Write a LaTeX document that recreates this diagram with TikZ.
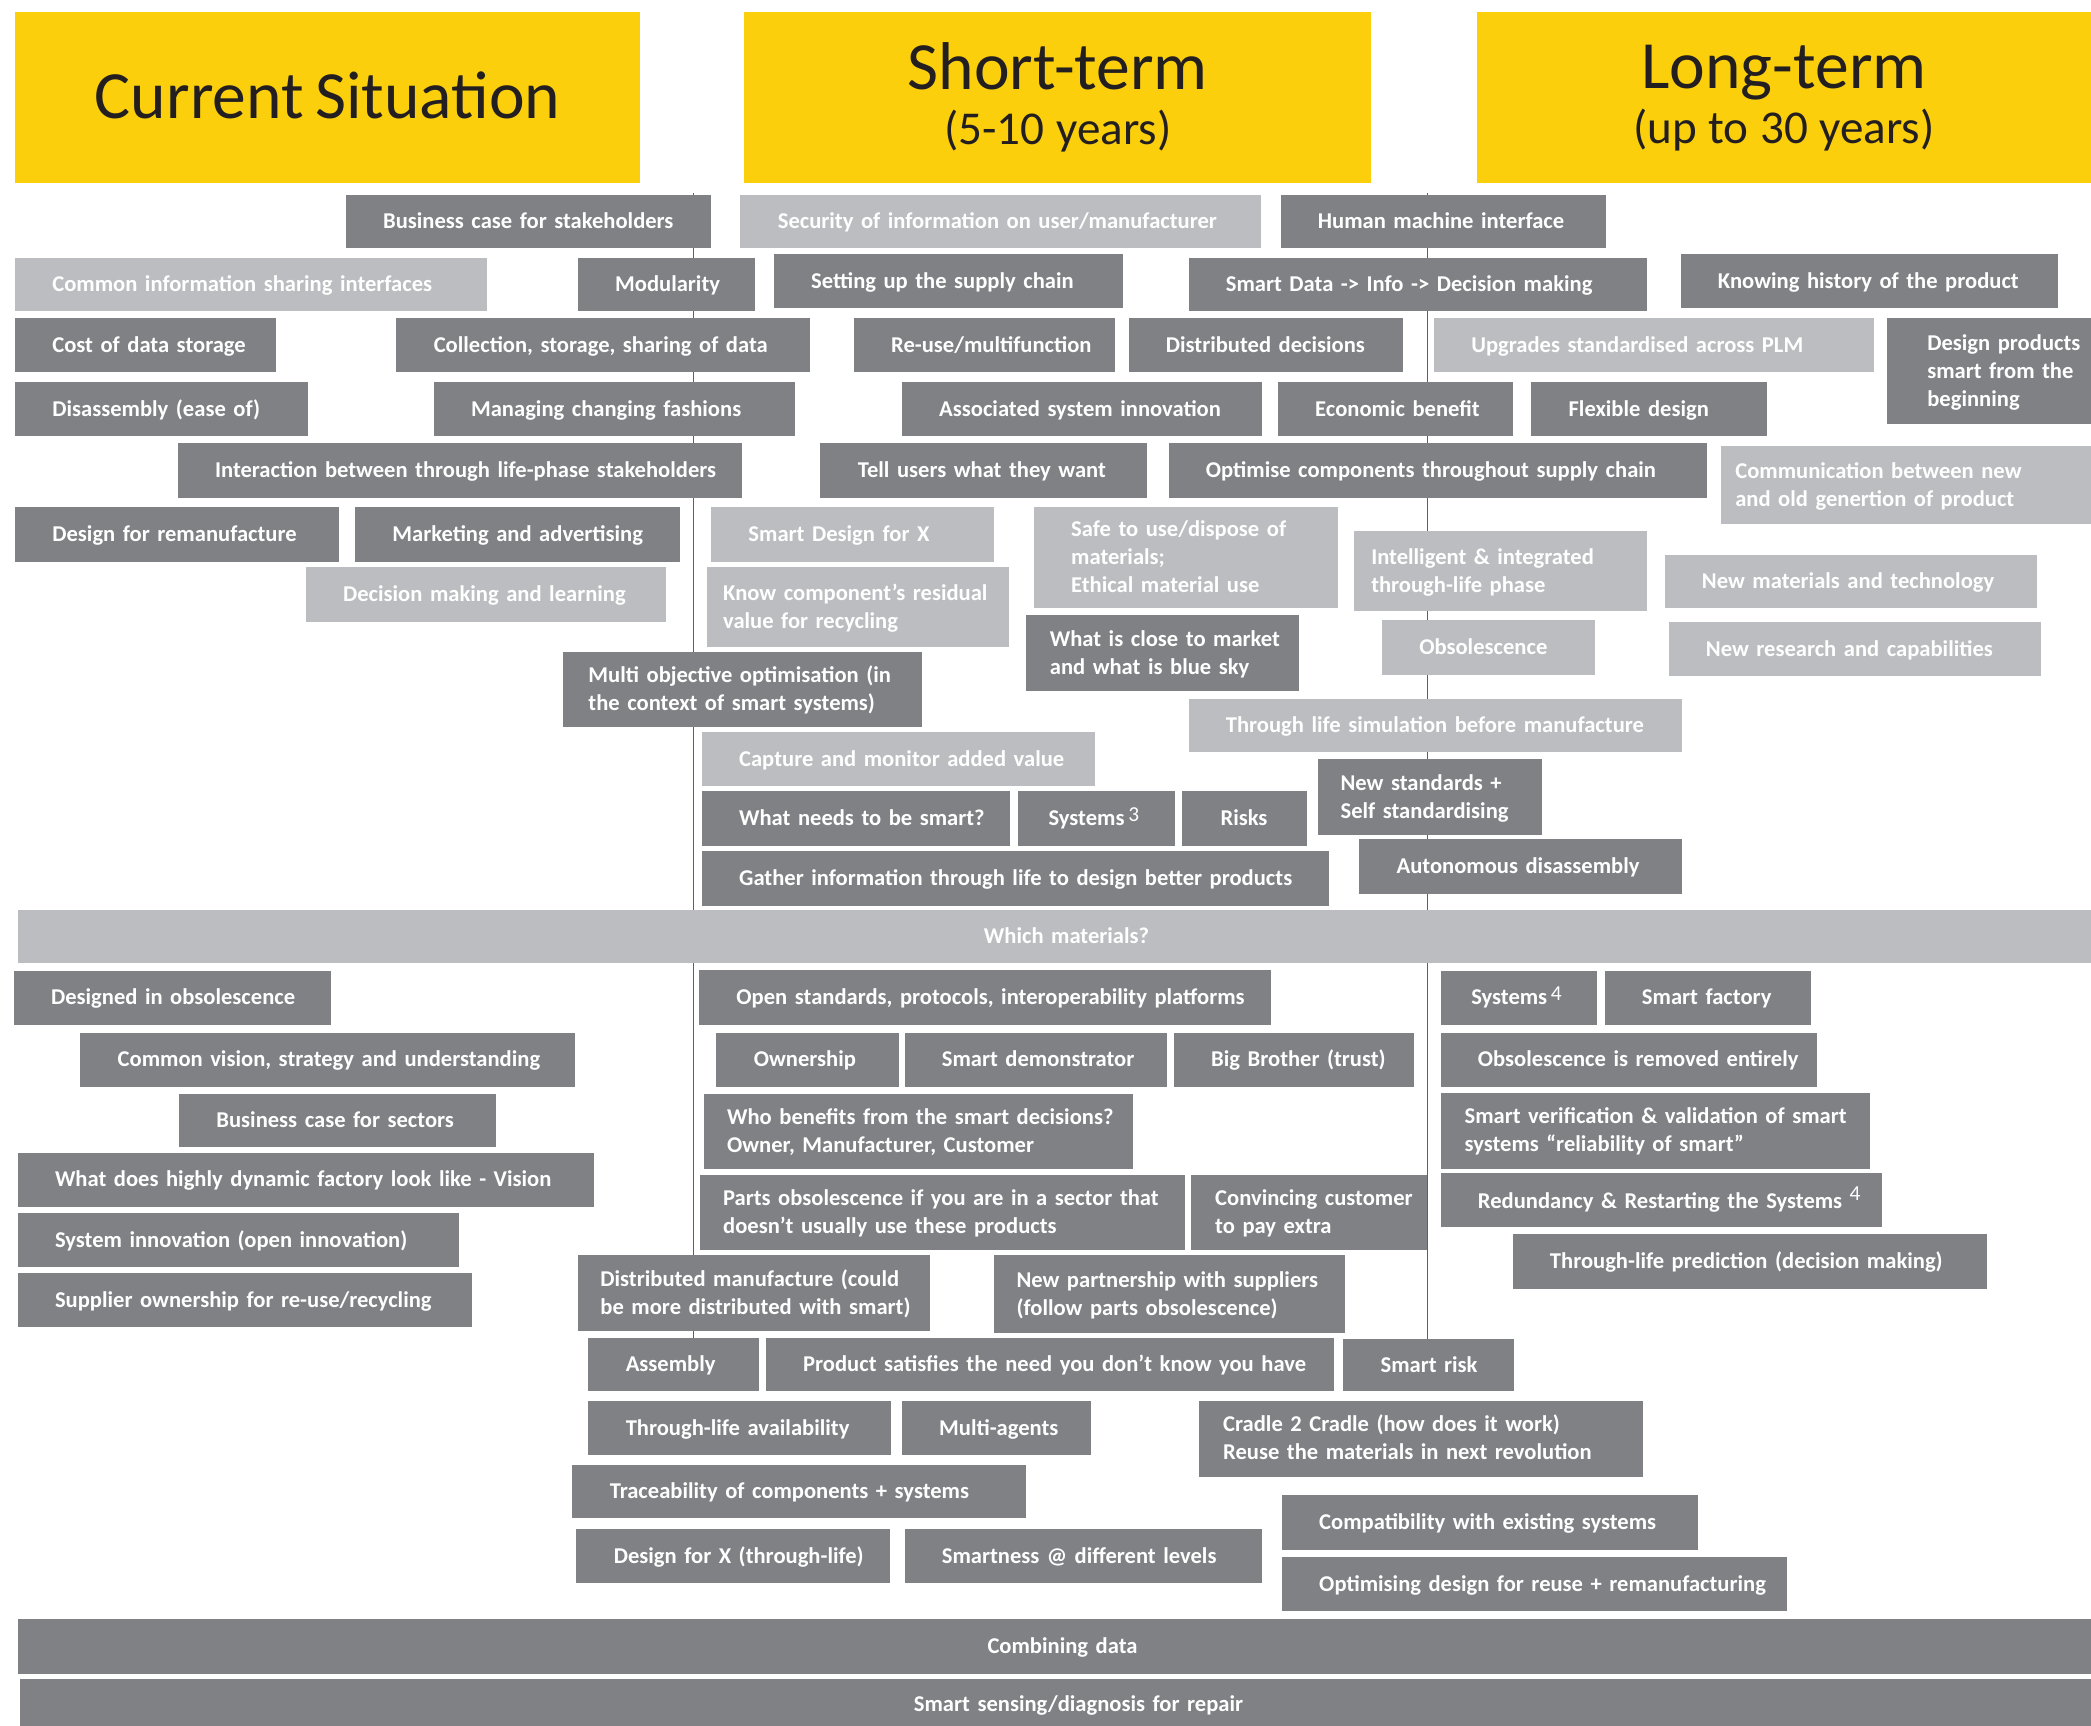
\documentclass[tikz,border=0pt]{standalone}
\usepackage{fontspec}
\setmainfont{Carlito}
\definecolor{headyellow}{HTML}{FBCF0B}
\definecolor{boxdark}{HTML}{808185}
\definecolor{boxlight}{HTML}{BCBDC0}
\definecolor{titleink}{HTML}{231F20}
\definecolor{divline}{HTML}{5F6064}
\newdimen\px \px=0.75pt
\newcommand\bxstrut{\rule[-2.5pt]{0pt}{13pt}}
\newcommand\spnum[1]{\,\raisebox{2.5pt}{\fontsize{12}{12}\selectfont\mdseries #1}}
\begin{document}
\begin{tikzpicture}[x=0.75pt, y=-0.75pt,
    sz/.style 2 args={minimum width=#1*0.75pt, minimum height=#2*0.75pt, text width=#1*0.75pt},
    ind/.style={execute at begin node={\leftskip=#1\px\bxstrut}},
    dk/.style={fill=boxdark, text=white, inner sep=0pt, anchor=north west, align=left,
        font=\fontsize{12.7}{15.75}\selectfont\bfseries, ind=28, execute at end node={\bxstrut}},
    lt/.style={dk, fill=boxlight},
    ctr/.style={execute at begin node={\centering\bxstrut\hspace*{#1\px}}},
    hd/.style={fill=headyellow, text=titleink, inner sep=0pt, anchor=north west,
        font=\fontsize{38}{31}\selectfont, execute at begin node={\centering\spaceskip=0.17em}},
    divider/.style={draw=divline, line width=1pt}]
    \useasboundingbox (0,0) rectangle (1568,1294);

    % Dividers between the time columns
    \coordinate (ltop) at (520,145);
    \coordinate (lbot) at (520,1004);
    \coordinate (rtop) at (1070.5,145);
    \coordinate (rbot) at (1070.5,1004);
    \draw[divider] (ltop) -- (lbot);
    \draw[divider] (rtop) -- (rbot);

    % Headings
    \node[hd, sz={469}{128}] (current) at (11,9) {\raisebox{3pt}{Current Situation}};
    \node[hd, sz={470}{128}] (short) at (558,9) {Short-term\\{\fontsize{26.5}{31}\selectfont(5-10 years)}};
    \node[hd, sz={461}{128}] (long) at (1107,9) {Long-term\\{\fontsize{26.5}{31}\selectfont(up to 30 years)}};

    % Upper part
    \node[dk, sz={274}{40}] (bcstake) at (259,146) {Business case for stakeholders};
    \node[lt, sz={390}{40}] (secinfo) at (555,146) {Security of information on user/manufacturer};
    \node[dk, sz={244}{40}] (hmi) at (960,146) {Human machine interface};
    \node[lt, sz={354}{40}] (cominfo) at (11,193) {Common information sharing interfaces};
    \node[dk, sz={133}{40}] (modul) at (433,193) {Modularity};
    \node[dk, sz={262}{41}] (supchain) at (580,190) {Setting up the supply chain};
    \node[dk, sz={344}{40}] (smartdata) at (891,193) {Smart Data -> Info -> Decision making};
    \node[dk, sz={283}{41}] (history) at (1260,190) {Knowing history of the product};
    \node[dk, sz={196}{41}] (datastore) at (11,238) {Cost of data storage};
    \node[dk, sz={310}{41}] (collect) at (297,238) {Collection, storage, sharing of data};
    \node[dk, sz={196}{41}] (reuse) at (640,238) {Re-use/multifunction};
    \node[dk, sz={206}{41}] (distdec) at (846,238) {Distributed decisions};
    \node[lt, sz={330}{41}] (upgrades) at (1075,238) {Upgrades standardised across PLM};
    \node[dk, sz={153}{80}, ind=30] (designsmart) at (1415,238) {Design products\\smart from the\\beginning};
    \node[dk, sz={220}{41}] (disasm) at (11,286) {Disassembly (ease of)};
    \node[dk, sz={271}{41}] (fashions) at (325,286) {Managing changing fashions};
    \node[dk, sz={270}{41}] (assocsys) at (676,286) {Associated system innovation};
    \node[dk, sz={176}{41}] (econ) at (958,286) {Economic benefit};
    \node[dk, sz={177}{41}] (flexdes) at (1148,286) {Flexible design};
    \node[dk, sz={423}{41}] (interact) at (133,332) {Interaction between through life-phase stakeholders};
    \node[dk, sz={245}{41}] (tellusers) at (615,332) {Tell users what they want};
    \node[dk, sz={404}{41}] (optcomp) at (876,332) {Optimise components throughout supply chain};
    \node[lt, sz={278}{59}, ind=11] (commgen) at (1290,334) {Communication between new\\and old genertion of product};
    \node[dk, sz={243}{41}] (desreman) at (11,380) {Design for remanufacture};
    \node[dk, sz={244}{41}] (marketing) at (266,380) {Marketing and advertising};
    \node[lt, sz={212}{41}] (smartdfx) at (533,380) {Smart Design for X};
    \node[lt, sz={228}{76}] (safeuse) at (775,380) {Safe to use/dispose of\\materials;\\Ethical material use};
    \node[lt, sz={220}{60}, ind=13] (intell) at (1015,398) {Intelligent \& integrated\\through-life phase};
    \node[lt, sz={279}{40}] (newmat) at (1248,416) {New materials and technology};
    \node[lt, sz={270}{41}] (decmaking) at (229,425) {Decision making and learning};
    \node[lt, sz={226}{60}, ind=12] (residual) at (530,425) {Know component’s residual\\value for recycling};
    \node[dk, sz={205}{57}, ind=18] (closemkt) at (769,461) {What is close to market\\and what is blue sky};
    \node[lt, sz={160}{41}] (obsol) at (1036,465) {Obsolescence};
    \node[lt, sz={279}{41}] (newres) at (1251,466) {New research and capabilities};
    \node[dk, sz={269}{56}, ind=19] (multiobj) at (422,489) {Multi objective optimisation (in\\the context of smart systems)};
    \node[lt, sz={370}{40}] (tlsim) at (891,524) {Through life simulation before manufacture};
    \node[lt, sz={295}{40}] (capture) at (526,549) {Capture and monitor added value};
    \node[dk, sz={168}{57}, ind=17] (newstd) at (988,569) {New standards +\\Self standardising};
    \node[dk, sz={231}{41}] (whatsmart) at (526,593) {What needs to be smart?};
    \node[dk, sz={118}{41}, ind=23] (sys3) at (763,593) {Systems\spnum{3}};
    \node[dk, sz={94}{41}, ind=29] (risks) at (886,593) {Risks};
    \node[dk, sz={470}{41}] (gather) at (526,638) {Gather information through life to design better products};
    \node[dk, sz={242}{41}] (autodis) at (1019,629) {Autonomous disassembly};

    % Band across all columns
    \node[lt, sz={1555}{40}, ctr=18] (materials) at (13,682) {Which materials?};

    % Lower part
    \node[dk, sz={238}{40}] (designedobs) at (10,728) {Designed in obsolescence};
    \node[dk, sz={429}{41}] (openstd) at (524,727) {Open standards, protocols, interoperability platforms};
    \node[dk, sz={117}{40}, ind=23] (sys4) at (1080,728) {Systems\spnum{4}};
    \node[dk, sz={155}{40}] (smartfac) at (1203,728) {Smart factory};
    \node[dk, sz={371}{41}] (vision) at (60,774) {Common vision, strategy and understanding};
    \node[dk, sz={137}{41}] (ownership) at (537,774) {Ownership};
    \node[dk, sz={197}{41}] (demonstr) at (678,774) {Smart demonstrator};
    \node[dk, sz={180}{41}] (bigbro) at (880,774) {Big Brother (trust)};
    \node[dk, sz={282}{41}] (obsremoved) at (1080,774) {Obsolescence is removed entirely};
    \node[dk, sz={238}{40}] (bcsect) at (134,820) {Business case for sectors};
    \node[dk, sz={321}{56}, ind=17] (benefits) at (528,820) {Who benefits from the smart decisions?\\Owner, Manufacturer, Customer};
    \node[dk, sz={322}{57}, ind=18] (verif) at (1080,819) {Smart verification \& validation of smart\\systems “reliability of smart”};
    \node[dk, sz={432}{41}] (dynfac) at (13,864) {What does highly dynamic factory look like - Vision};
    \node[dk, sz={363}{56}, ind=17] (partsobs) at (525,881) {Parts obsolescence if you are in a sector that\\doesn’t usually use these products};
    \node[dk, sz={177}{56}, ind=18] (convince) at (893,881) {Convincing customer\\to pay extra};
    \node[dk, sz={331}{41}] (redund) at (1080,879) {Redundancy \& Restarting the Systems\,\raisebox{1.5pt}{\spnum{4}}};
    \node[dk, sz={331}{41}] (sysinnov) at (13,909) {System innovation (open innovation)};
    \node[dk, sz={356}{41}] (tlpred) at (1134,925) {Through-life prediction (decision making)};
    \node[dk, sz={341}{41}] (supplier) at (13,954) {Supplier ownership for re-use/recycling};
    \node[dk, sz={264}{57}, ind=17] (distman) at (433,941) {Distributed manufacture (could\\be more distributed with smart)};
    \node[dk, sz={263}{58}, ind=17] (partners) at (745,941) {New partnership with suppliers\\(follow parts obsolescence)};
    \node[dk, sz={128}{40}] (assembly) at (441,1003) {Assembly};
    \node[dk, sz={426}{40}] (satisfies) at (574,1003) {Product satisfies the need you don’t know you have};
    \node[dk, sz={128}{39}] (smartrisk) at (1007,1004) {Smart risk};
    \node[dk, sz={227}{41}] (tlavail) at (441,1050) {Through-life availability};
    \node[dk, sz={142}{41}] (multiag) at (676,1050) {Multi-agents};
    \node[dk, sz={333}{57}, ind=18] (cradle) at (899,1050) {Cradle 2 Cradle (how does it work)\\Reuse the materials in next revolution};
    \node[dk, sz={340}{40}] (trace) at (429,1098) {Traceability of components + systems};
    \node[dk, sz={312}{41}] (compat) at (961,1121) {Compatibility with existing systems};
    \node[dk, sz={235}{41}] (dfx) at (432,1146) {Design for X (through-life)};
    \node[dk, sz={268}{41}] (smartness) at (678,1146) {Smartness @ different levels};
    \node[dk, sz={379}{41}] (optreuse) at (961,1167) {Optimising design for reuse + remanufacturing};

    % Bands at the bottom
    \node[dk, sz={1555}{41}, ctr=12] (combining) at (13,1214) {Combining data};
    \node[dk, sz={1553}{38}, ctr=34] (sensing) at (15,1259) {Smart sensing/diagnosis for repair};
\end{tikzpicture}
\end{document}
